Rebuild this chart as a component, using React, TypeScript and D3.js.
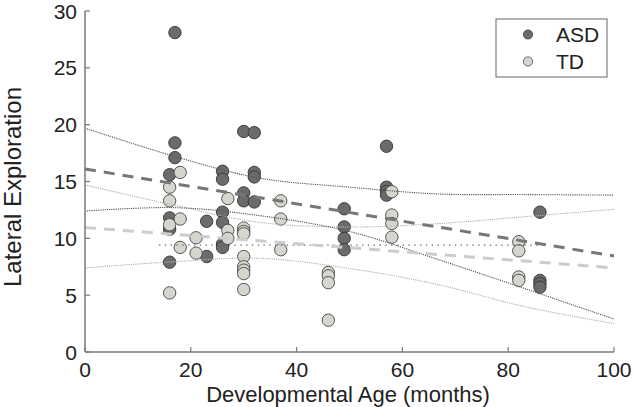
import React from "react";
import * as d3 from "d3";

const W = 633;
const H = 407;

const xTicks = [0, 20, 40, 60, 80, 100];
const yTicks = [0, 5, 10, 15, 20, 25, 30];

const asdAge = [16, 16, 16, 16, 17, 17, 17, 23, 23, 26, 26, 26, 26, 26, 26, 30, 30, 30, 32, 32, 32, 32, 49, 49, 49, 49, 57, 57, 57, 57, 86, 86, 86, 86];
const asdVal = [15.6, 11.8, 10.8, 7.9, 28.1, 18.4, 17.1, 11.5, 8.4, 15.9, 15.2, 12.3, 11.4, 9.5, 9.2, 19.4, 14.0, 13.3, 19.3, 15.8, 15.4, 13.2, 12.6, 11.0, 10.0, 9.0, 18.1, 14.5, 14.1, 13.8, 12.3, 6.3, 6.0, 5.7];

const tdAge = [16, 16, 16, 16, 18, 18, 18, 21, 21, 27, 27, 27, 30, 30, 30, 30, 30, 30, 30, 30, 37, 37, 37, 46, 46, 46, 46, 58, 58, 58, 58, 82, 82, 82, 82];
const tdVal = [14.5, 13.3, 11.2, 5.2, 15.8, 11.7, 9.2, 10.05, 8.7, 13.5, 10.7, 10.0, 10.9, 10.6, 10.4, 8.4, 7.5, 7.2, 6.9, 5.5, 13.3, 11.7, 9.0, 7.0, 6.7, 6.1, 2.8, 14.1, 12.05, 11.3, 10.1, 9.7, 8.9, 6.6, 6.3];

const fitAge = [0, 100];
const asdFit = [16.1, 8.45];
const tdFit = [10.95, 7.4];

const bandAge = [0, 17, 33, 50, 67, 83, 100];
const asdUpper = [19.7, 17.2, 15.3, 14.5, 13.9, 13.85, 13.8];
const asdLower = [12.4, 12.7, 12.0, 10.6, 8.1, 5.6, 2.9];
const tdUpper = [14.7, 12.9, 11.4, 11.0, 11.3, 11.9, 12.55];
const tdLower = [7.4, 7.95, 8.25, 7.35, 5.9, 4.0, 2.5];

const meanAge = [14, 86];
const meanVal = [9.4, 9.4];

const legendLabels = ["ASD", "TD"];

const FONT = "'Liberation Sans', Arial, sans-serif";

export default function App() {
  const x = d3.scaleLinear().domain([0, 100]).range([85, 614]);
  const y = d3.scaleLinear().domain([0, 30]).range([352, 11]);

  const straight = d3
    .line<[number, number]>()
    .x((d) => x(d[0]))
    .y((d) => y(d[1]));
  const smooth = d3
    .line<[number, number]>()
    .x((d) => x(d[0]))
    .y((d) => y(d[1]))
    .curve(d3.curveCatmullRom);

  const pairs = (a: number[], b: number[]) =>
    a.map((v, i) => [v, b[i]] as [number, number]);

  const asdColor = "#6b6b6b";
  const tdColor = "#d6d6cf";

  return (
    <svg
      width={W}
      height={H}
      style={{ position: "absolute", left: 0, top: 0, background: "#fff" }}
      fontFamily={FONT}
    >
      {/* points */}
      {asdAge.map((a, i) => (
        <circle
          key={"a" + i}
          cx={x(a)}
          cy={y(asdVal[i])}
          r={6.2}
          fill={asdColor}
          stroke="#333"
          strokeWidth={0.9}
        />
      ))}
      {tdAge.map((a, i) => (
        <circle
          key={"t" + i}
          cx={x(a)}
          cy={y(tdVal[i])}
          r={6.2}
          fill={tdColor}
          stroke="#444"
          strokeWidth={0.9}
        />
      ))}

      {/* confidence bands */}
      <path d={smooth(pairs(bandAge, tdUpper)) || ""} fill="none" stroke="#b0b0b0" strokeWidth={1.1} strokeDasharray="1.2,1" />
      <path d={smooth(pairs(bandAge, tdLower)) || ""} fill="none" stroke="#b0b0b0" strokeWidth={1.1} strokeDasharray="1.2,1" />
      <path d={smooth(pairs(bandAge, asdUpper)) || ""} fill="none" stroke="#555" strokeWidth={1.1} strokeDasharray="1.2,1" />
      <path d={smooth(pairs(bandAge, asdLower)) || ""} fill="none" stroke="#555" strokeWidth={1.1} strokeDasharray="1.2,1" />

      {/* mean dotted line */}
      <path d={straight(pairs(meanAge, meanVal)) || ""} fill="none" stroke="#6a6a6a" strokeWidth={1.4} strokeDasharray="1.4,4.4" />

      {/* fit lines */}
      <path d={straight(pairs(fitAge, tdFit)) || ""} fill="none" stroke="#cccccc" strokeWidth={3} strokeDasharray="11,8" />
      <path d={straight(pairs(fitAge, asdFit)) || ""} fill="none" stroke="#777" strokeWidth={3} strokeDasharray="11,8" />

      {/* axes */}
      <line x1={x(0)} x2={x(0)} y1={y(0)} y2={y(30)} stroke="#7a7a7a" strokeWidth={1.5} />
      <line x1={x(0)} x2={x(100)} y1={y(0)} y2={y(0)} stroke="#7a7a7a" strokeWidth={1.5} />
      {yTicks.map((t) => (
        <g key={"yt" + t}>
          <line x1={x(0)} x2={x(0) + 5} y1={y(t)} y2={y(t)} stroke="#7a7a7a" strokeWidth={1.2} />
          <text x={x(0) - 8} y={y(t)} dy="0.36em" textAnchor="end" fontSize={21} fill="#222">
            {t}
          </text>
        </g>
      ))}
      {xTicks.map((t) => (
        <g key={"xt" + t}>
          <line x1={x(t)} x2={x(t)} y1={y(0)} y2={y(0) - 5} stroke="#7a7a7a" strokeWidth={1.2} />
          <text x={x(t)} y={377} textAnchor="middle" fontSize={21} fill="#222">
            {t}
          </text>
        </g>
      ))}
      <text x={348} y={402} textAnchor="middle" fontSize={22} fill="#222">
        Developmental Age (months)
      </text>
      <text
        transform={`translate(21,187) rotate(-90)`}
        textAnchor="middle"
        fontSize={24}
        fill="#222"
      >
        Lateral Exploration
      </text>

      {/* legend */}
      <rect x={496} y={19} width={111} height={58} fill="#fff" stroke="#666" strokeWidth={1} />
      {legendLabels.map((lab, i) => (
        <g key={lab}>
          <circle
            cx={528}
            cy={34.5 + i * 27}
            r={4.6}
            fill={i === 0 ? asdColor : tdColor}
            stroke="#444"
            strokeWidth={0.8}
          />
          <text x={556} y={42.3 + i * 27} fontSize={21} fill="#222">
            {lab}
          </text>
        </g>
      ))}
    </svg>
  );
}
